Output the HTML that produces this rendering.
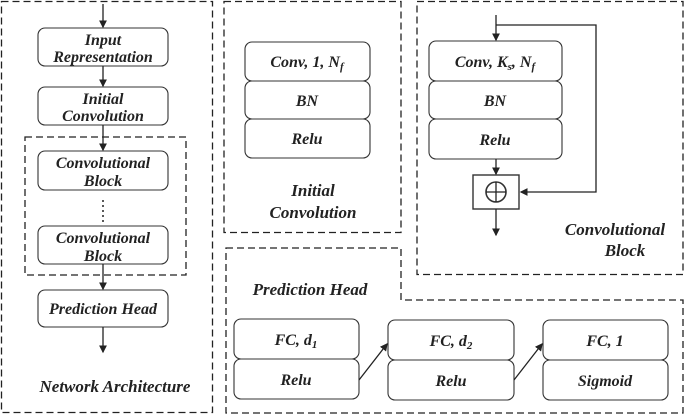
<!DOCTYPE html>
<html><head><style>
body{margin:0;background:#fff;}
svg text{font-family:"Liberation Serif",serif;font-weight:bold;font-style:italic;font-size:16px;fill:#222;text-anchor:middle;}
svg text.l{font-size:17px;}
</style></head><body>
<svg width="685" height="415" viewBox="0 0 685 415" xmlns="http://www.w3.org/2000/svg">
<defs><marker id="a" markerWidth="6" markerHeight="6" refX="5" refY="3" orient="auto"><path d="M0,0L6,3L0,6z" fill="#222"/></marker></defs>
<g fill="none" stroke="#222" stroke-width="1.3" stroke-dasharray="7,4">
<rect x="1.5" y="1.5" width="211" height="411"/>
<rect x="25" y="137" width="161" height="138"/>
<rect x="224" y="1.5" width="177" height="231"/>
<rect x="417" y="1.5" width="266" height="273"/>
<path d="M226,248H401V300H683V413H226Z"/>
</g>
<g fill="#fff" stroke="#333" stroke-width="1.1">
<rect x="38" y="28" width="130" height="38" rx="7"/>
<rect x="38" y="87" width="130" height="38" rx="7"/>
<rect x="38" y="151" width="130" height="39" rx="7"/>
<rect x="38" y="226" width="130" height="38" rx="7"/>
<rect x="38" y="290" width="130" height="37" rx="7"/>
<rect x="245" y="42" width="125" height="39" rx="7"/>
<rect x="245" y="81" width="125" height="38" rx="7"/>
<rect x="245" y="119" width="125" height="39" rx="7"/>
<rect x="429" y="41" width="133" height="40" rx="7"/>
<rect x="429" y="81" width="133" height="38" rx="7"/>
<rect x="429" y="119" width="133" height="40" rx="7"/>
<rect x="234" y="319" width="125" height="40" rx="7"/>
<rect x="234" y="359" width="125" height="40" rx="7"/>
<rect x="388" y="320" width="126" height="40" rx="7"/>
<rect x="388" y="360" width="126" height="40" rx="7"/>
<rect x="543" y="320" width="125" height="40" rx="7"/>
<rect x="543" y="360" width="125" height="40" rx="7"/>
<rect x="473" y="175" width="46" height="34" stroke-width="1.4"/>
<circle cx="496" cy="192" r="10" stroke-width="1.6"/>
</g>
<g stroke="#222" stroke-width="1.3" fill="none">
<path d="M486,192H506M496,182V202"/>
<path d="M103,4V27" marker-end="url(#a)"/>
<path d="M103,66V86" marker-end="url(#a)"/>
<path d="M103,125V150" marker-end="url(#a)"/>
<path d="M103,264V289" marker-end="url(#a)"/>
<path d="M103,327V352" marker-end="url(#a)"/>
<path d="M496,15V40" marker-end="url(#a)"/>
<path d="M496,25H596V192H521" marker-end="url(#a)"/>
<path d="M496,159V174" marker-end="url(#a)"/>
<path d="M496,209V235" marker-end="url(#a)"/>
<path d="M359,380L387,344" marker-end="url(#a)"/>
<path d="M514,380L542,344" marker-end="url(#a)"/>
<path d="M103,200V222" stroke-dasharray="2,3" stroke-width="1.5"/>
</g>
<text x="103" y="45">Input</text>
<text x="103" y="62">Representation</text>
<text x="103" y="104">Initial</text>
<text x="103" y="121">Convolution</text>
<text x="103" y="168">Convolutional</text>
<text x="103" y="186">Block</text>
<text x="103" y="243">Convolutional</text>
<text x="103" y="261">Block</text>
<text x="103" y="314">Prediction Head</text>
<text class="l" x="115" y="392">Network Architecture</text>
<text x="307" y="67">Conv, 1, N<tspan font-size="11" dy="3">f</tspan></text>
<text x="307" y="106">BN</text>
<text x="307" y="144">Relu</text>
<text class="l" x="313" y="196">Initial</text>
<text class="l" x="313" y="218">Convolution</text>
<text x="495" y="67">Conv, K<tspan font-size="11" dy="3">s</tspan><tspan dy="-3">, N</tspan><tspan font-size="11" dy="3">f</tspan></text>
<text x="495" y="106">BN</text>
<text x="495" y="145">Relu</text>
<text class="l" x="615" y="235">Convolutional</text>
<text class="l" x="625" y="256">Block</text>
<text class="l" x="310" y="295">Prediction Head</text>
<text x="296" y="345">FC, d<tspan font-size="11" dy="3">1</tspan></text>
<text x="296" y="385">Relu</text>
<text x="451" y="346">FC, d<tspan font-size="11" dy="3">2</tspan></text>
<text x="451" y="386">Relu</text>
<text x="605" y="346">FC, 1</text>
<text x="605" y="386">Sigmoid</text>
</svg>
</body></html>
